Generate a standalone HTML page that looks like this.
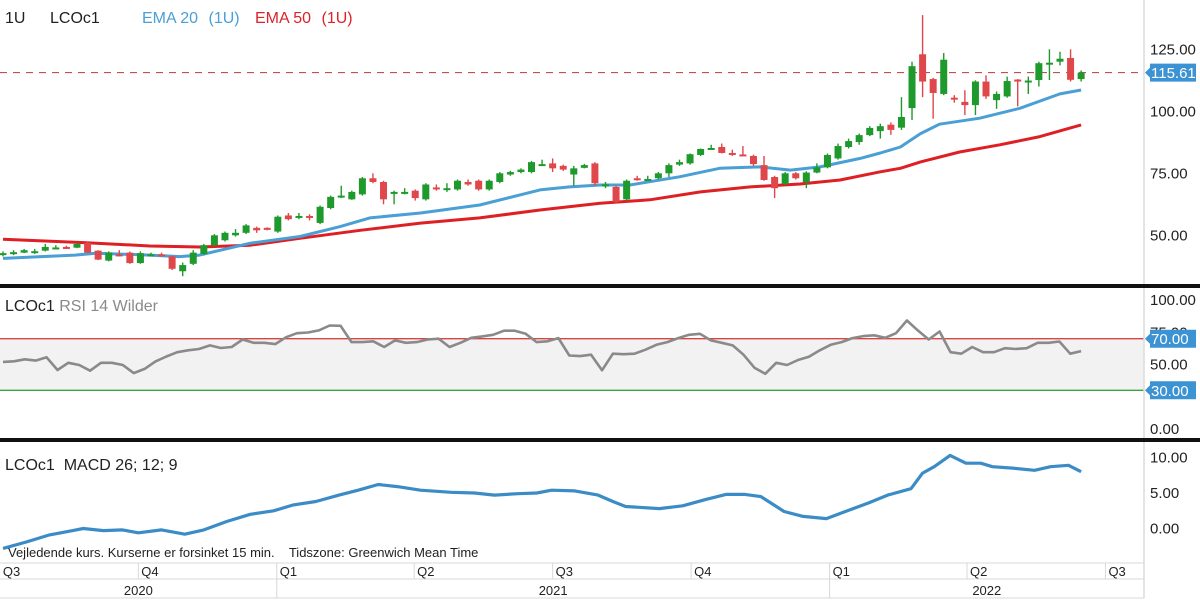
<!DOCTYPE html>
<html><head><meta charset="utf-8">
<style>
html,body{margin:0;padding:0;background:#fff;}
svg{display:block;font-family:"Liberation Sans",sans-serif;}
</style></head>
<body>
<svg id="chart" width="1200" height="601" viewBox="0 0 1200 601" xmlns="http://www.w3.org/2000/svg">
  <rect x="0" y="0" width="1200" height="601" fill="#fff"/>
  <!-- RSI band -->
  <rect id="rsiBand" x="0" y="0" width="1144" height="0" fill="#f2f2f2"/>
  <g id="marks"></g>
  <!-- right axis line -->
  <line x1="1144" y1="0" x2="1144" y2="598" stroke="#dcdcdc" stroke-width="1.5"/>
  <!-- panel separators -->
  <rect x="0" y="284" width="1200" height="4" fill="#111"/>
  <rect x="0" y="438" width="1200" height="4" fill="#111"/>
  <!-- legends -->
  <text x="5" y="23" font-size="16" fill="#222">1U</text>
  <text x="50" y="23" font-size="16" fill="#222">LCOc1</text>
  <text x="142" y="23" font-size="16" fill="#4a9fd4">EMA 20 <tspan dx="6">(1U)</tspan></text>
  <text x="255" y="23" font-size="16" fill="#d9242a">EMA 50 <tspan dx="6">(1U)</tspan></text>
  <text x="5" y="311" font-size="16" fill="#222">LCOc1 <tspan fill="#8a8a8a">RSI 14 Wilder</tspan></text>
  <text x="5" y="470" font-size="16" fill="#222">LCOc1&#160; MACD 26; 12; 9</text>
  <text x="8" y="557" font-size="13" fill="#222">Vejledende kurs. Kurserne er forsinket 15 min.&#160;&#160;&#160; Tidszone: Greenwich Mean Time</text>
  <!-- time axis -->
  <g id="timeAxis">
    <line x1="0" y1="563" x2="1144" y2="563" stroke="#d8d8d8"/>
    <line x1="0" y1="579" x2="1144" y2="579" stroke="#d8d8d8"/>
    <line x1="0" y1="598" x2="1144" y2="598" stroke="#d8d8d8"/>
  </g>
  <g id="axisLabels"></g>
</svg>
<script>
// ---- data ----
const opens  = [42,42.8,43,43.3,43.8,44.8,45.3,45,47,43.8,39.8,42.3,43,38.8,42,42.3,41.5,35.5,38.5,42.5,46,48,50,51,53,53,51.5,58,57,57.8,55,61,65.5,64.5,66.5,73,71.5,67,67,68,64.5,69.3,68.3,68.5,71.5,72,68.5,71.5,74.5,75.5,75.5,78.3,79,78,74.5,77.2,79,70,69.5,64.5,73,72.3,73,75,78.5,79,82.4,84.8,85.6,83.2,82.6,82,78.3,73.5,70.7,75,71.4,75.3,77.4,81,85.6,87.6,90.4,92,94.6,93.4,101.3,123,113,107,105.5,103.8,102.5,112,104.5,106,112.8,111.8,112.6,119.2,120,121.5,113];
const closes = [42.8,43.2,44,43.6,45.3,45.1,44.7,46.5,43,40.2,43,41.8,38.8,42.8,42.3,42,36.5,38,43,46,50,51,51,54,52,52.5,57.5,56.5,57.8,57.2,61.5,65.5,66,67.5,73,71.5,64.5,67.5,67.5,65,70.5,68.5,69,72,70.5,68.5,72,75,75.5,76.5,79.5,78.7,77,76.5,77,78.3,71,70.5,63.5,72,72.3,72.7,75,78.3,79.5,82.7,84.8,85.2,83.2,82.5,82.2,78.7,72.3,69,75,73,75.3,77.4,82.4,86,88,90.4,93.3,94,92.5,97.7,118.2,112,107.4,120.8,105,102.5,112,106,107,112.2,112.2,112.4,119.4,119.6,121.2,112.7,115.6];
const highs  = [43.5,44,44.5,44.5,46.5,46,45.8,46.8,47.5,44,43.5,44,43.5,43.5,43,43,41.8,39,44,46.5,50.5,51.5,52.5,54.5,53.5,53.2,58,59,59,58.5,62,66,70,68,73.5,75,72,68,69,68.5,71,70.5,71,72.5,72.5,72.5,72.5,75.5,76,77,80,80.5,81,78.5,78,78.8,79.5,71.5,70,72.5,74,74,75.5,79,80.5,83,85,86.5,87,84.5,86,82.5,82,74,75.5,75.5,75.8,79,83,87,89,91,94,95,95.5,105.7,120,138.8,113.5,123.5,106.5,108.5,112.5,114.5,108,114,113,114,120,125,124,125,116.5];
const lows   = [41.5,42,42.8,42.5,43.5,44.5,44.5,44.8,42.8,40,39.5,41.5,38.5,38.5,41.5,41.5,36,33.5,38,42,45.5,47.5,49.5,50.5,51,52,51,56,56.5,56,54.5,60.5,65,64.3,66,71,62.5,62.5,66.5,64,64,68,67.5,68,70,68,68,71,74,75,75,78,75.5,76,70,77,70,69,63,64,72,72,72.5,73.5,78,78.5,82,84.5,83,82,82,78,72,65,70.3,72.5,69,75,77,80.5,85,86.5,90,89,90.5,92.5,96.5,105.7,97,106.5,103.5,98.5,98.5,105,101,105.5,102,107,110,112.6,118.5,112,112];
const lastPrice = 115.61;
const priceTicks = [125,100,75,50];

const ema20Idx = [0,6.8,8.8,13.9,16.7,18.6,23.4,28.1,31.9,34.7,39.5,45.1,50.8,53.6,56.5,59.3,64,67.8,71.6,74.5,77.3,81.1,83,84.9,86.8,88.6,92.4,96.2,100,102];
const ema20    = [40.7,42,42.8,42,41.4,42,46.8,49.5,53.5,57,59,62.2,68.3,69.5,70.3,70.3,73.6,77,77.6,76.3,77.6,81,83.2,85.6,91,94.8,97.2,101.2,107,108.6];
const ema50Idx = [0,7.9,13.9,18.6,23.4,28.1,33.8,39.5,45.1,50.8,56.5,61.2,66,70.7,75.4,79.2,83,84.9,86.8,90.5,94.3,98.1,102];
const ema50    = [48.4,47,45.7,45.3,46,48.8,52,54.9,57,60.2,62.9,64.3,67.5,69.5,70.7,72.3,75.6,77,79.6,83.6,86.5,89.8,94.5];

const rsi = [52,52.5,54,53,55.6,45.7,51.3,49.6,45.2,51.3,51.3,49.6,43.3,46.6,52.4,56.2,59.5,61,62,64.8,62.8,63.6,69.4,66.8,66.8,65.8,71.2,74.3,74.8,76.4,80.2,80,67.4,67.4,68,63.6,68.7,66.8,67.4,69.4,70,63.6,66.8,70.7,71.8,73,76.2,76.2,73.8,67.4,68,70.5,57,56.5,57.6,45.5,58.4,58,58.4,61.5,65.3,67.4,70.5,73,73.8,68.7,66.8,64.8,57.6,47.5,42.8,51.3,49.6,53.5,56,61,65.3,67.4,70.5,72,72.6,70.7,74.3,84.1,76.4,69.4,75.6,59.5,58.4,63.6,59.5,59.5,62.6,62,62.6,66.8,66.8,67.8,58.4,60.4];
const rsiTicks = [100,50,0];
const rsiLevels = [70,30];

const macdIdx = [0,2.2,4.4,6.6,7.6,9.5,11.3,12.8,15,17.2,19,21.2,23.4,25.6,27.4,29.6,31.8,33.6,35.5,37.3,39.5,42.4,44.6,46.5,48.7,50.5,51.9,54.1,56.3,57.7,58.9,62.1,64.3,66.5,68.4,70.2,71.7,73.9,75.7,77.9,79.7,81.9,83.7,85.9,87,88.1,89.6,91.1,92.5,93.6,95.5,97.6,99.1,100.8,102];
const macd    = [-2.8,-1.9,-0.9,-0.3,0,-0.3,-0.2,-0.6,-0.2,-0.8,-0.2,1,2,2.5,3.3,3.8,4.7,5.4,6.2,5.9,5.4,5.1,5.0,4.7,4.9,5.0,5.4,5.3,4.7,3.8,3.1,2.8,3.2,4.1,4.8,4.8,4.5,2.4,1.7,1.4,2.4,3.6,4.7,5.6,7.8,8.7,10.3,9.2,9.2,8.7,8.5,8.2,8.7,8.9,8.0];
const macdTicks = [10,5,0];

const quarterLabels = ["Q3","Q4","Q1","Q2","Q3","Q4","Q1","Q2","Q3"];
const quarterIdx    = [-0.3,12.8,25.9,38.9,52,65.1,78.2,91.2,104.3];
const yearLabels = ["2020","2021","2022"];
const yearStartQ = [0,2,6];
const yearEndQ   = [2,6,8.6];

// ---- scales ----
const x = i => 3 + i * 10.57;
const yP = v => 49.3 + (125 - v) * 2.48;
const yR = v => 429 - v * 1.29;
const yM = v => 528.5 - v * 7.1;

const NS = "http://www.w3.org/2000/svg";
const marks = document.getElementById('marks');
const axisLabels = document.getElementById('axisLabels');
function mk(tag, attrs, parent) {
  const e = document.createElementNS(NS, tag);
  for (const k in attrs) e.setAttribute(k, attrs[k]);
  (parent || marks).appendChild(e);
  return e;
}

// RSI band
const band = document.getElementById('rsiBand');
band.setAttribute('y', yR(rsiLevels[0]));
band.setAttribute('height', yR(rsiLevels[1]) - yR(rsiLevels[0]));

// dashed last price line
const dl = mk('line', {x1: 0, x2: 1144, y1: yP(lastPrice), y2: yP(lastPrice), stroke: '#c2504c', 'stroke-width': 1.2, 'stroke-dasharray': '7,6'});



// EMAs
function pathFrom(idx, vals, ys) {
  return idx.map((d, k) => (k ? 'L' : 'M') + x(d).toFixed(1) + ',' + ys(vals[k]).toFixed(1)).join(' ');
}
const e50 = mk('path', {d: pathFrom(ema50Idx, ema50, yP), fill: 'none', stroke: '#de1f24', 'stroke-width': 3, 'stroke-linejoin': 'round'});


const e20 = mk('path', {d: pathFrom(ema20Idx, ema20, yP), fill: 'none', stroke: '#4a9fd4', 'stroke-width': 3, 'stroke-linejoin': 'round'});



// candles
for (let i = 0; i < opens.length; i++) {
  const up = closes[i] >= opens[i];
  const col = up ? '#1e9a2c' : '#e0474a';
  const g = mk('g', {});
  
  
  mk('line', {x1: x(i), x2: x(i), y1: yP(highs[i]), y2: yP(lows[i]), stroke: col, 'stroke-width': 1.4}, g);
  const top = yP(Math.max(opens[i], closes[i]));
  const h = Math.max(2, yP(Math.min(opens[i], closes[i])) - top);
  mk('rect', {x: x(i) - 3.5, y: top, width: 7, height: h, fill: col}, g);
}

// RSI levels & line
const lvlCols = ['#d9453f', '#3aa63f'];
rsiLevels.forEach((lv, k) => {
  const l = mk('line', {x1: 0, x2: 1144, y1: yR(lv), y2: yR(lv), stroke: lvlCols[k], 'stroke-width': 1.3});
  
  
});
const rsiPath = rsi.map((v, k) => (k ? 'L' : 'M') + x(k * 102 / (rsi.length - 1)).toFixed(1) + ',' + yR(v).toFixed(1)).join(' ');
const rl = mk('path', {d: rsiPath, fill: 'none', stroke: '#8a8a8a', 'stroke-width': 2.6, 'stroke-linejoin': 'round'});



// MACD
const ml = mk('path', {d: pathFrom(macdIdx, macd, yM), fill: 'none', stroke: '#3b8cc6', 'stroke-width': 3.2, 'stroke-linejoin': 'round'});



// axis labels
function label(txt, yy, name) {
  const t = mk('text', {x: 1150, y: yy + 5, 'font-size': 15, fill: '#222'}, axisLabels);
  t.textContent = txt;
  
  
}
priceTicks.forEach(v => label(v.toFixed(2), yP(v), 'price-tick'));
rsiTicks.forEach(v => label(v.toFixed(2), yR(v), 'rsi-tick'));
label('75.00', yR(75), 'rsi-tick');
macdTicks.forEach(v => label(v.toFixed(2), yM(v), 'macd-tick'));

function tag(txt, yy, name) {
  const g = mk('g', {}, axisLabels);
  
  
  mk('path', {d: `M1145,${yy} L1150,${yy-5} L1150,${yy-9} L1196,${yy-9} L1196,${yy+9} L1150,${yy+9} L1150,${yy+5} Z`, fill: '#3b93d3'}, g);
  const t = mk('text', {x: 1151, y: yy + 5.5, 'font-size': 15, fill: '#fff'}, g);
  t.textContent = txt;
}
tag(lastPrice.toFixed(2), yP(lastPrice), 'last-price-tag');
rsiLevels.forEach(lv => tag(lv.toFixed(2), yR(lv), 'rsi-level-tag'));

// time axis
const ta = document.getElementById('timeAxis');
quarterLabels.forEach((q, k) => {
  const xx = x(quarterIdx[k]);
  if (k > 0) {
    const sep = mk('line', {x1: xx, x2: xx, y1: 563, y2: 579, stroke: '#d8d8d8'}, ta);
    
    
  }
  const t = mk('text', {x: Math.max(2, xx + 3), y: 576, 'font-size': 13, fill: '#222'}, ta);
  t.textContent = q;
  
  
});
yearLabels.forEach((yl, k) => {
  const xs = k === 0 ? 0 : x(quarterIdx[yearStartQ[k]]);
  const xe = k === 2 ? 1144 : x(quarterIdx[yearEndQ[k]]);
  if (k > 0) {
    const sep = mk('line', {x1: xs, x2: xs, y1: 579, y2: 598, stroke: '#d8d8d8'}, ta);
    
    
  }
  const t = mk('text', {x: (xs + xe) / 2, y: 595, 'font-size': 13, fill: '#222', 'text-anchor': 'middle'}, ta);
  t.textContent = yl;
  
  
});
</script>
</body></html>
